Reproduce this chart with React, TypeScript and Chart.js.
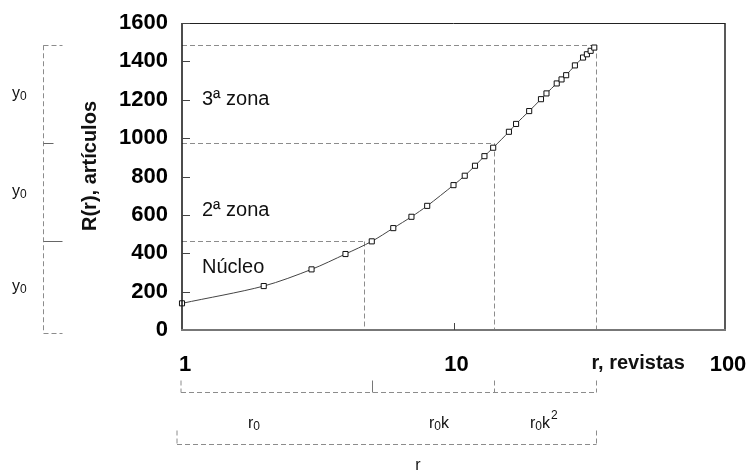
import React, { useEffect, useRef } from "react";
import { Chart, registerables } from "chart.js";

Chart.register(...registerables);

// Ranks of journals (r) and cumulative articles R(r)
const ranks = [1, 2, 3, 4, 5, 6, 7, 8, 10, 11, 12, 13, 14, 16, 17, 19, 21, 22, 24, 25, 26, 28, 30, 31, 32, 33];
const articles = [139, 229, 316, 396, 462, 531, 590, 647, 755, 804, 856, 906, 950, 1033, 1074, 1141, 1203, 1233, 1285, 1306, 1328, 1379, 1420, 1437, 1455, 1472];

// Bradford zones: end rank and cumulative articles at the end of each zone
const zoneNames = ["Núcleo", "2ª zona", "3ª zona"];
const zoneEndRank = [4.67, 14.07, 33.6];
const zoneEndArticles = [462, 972, 1484];
const zoneLabelArticles = [328, 625, 1200];

const xMajorTicks = [1, 10, 100];
const yMin = 0;
const yMax = 1600;
const yStep = 200;

const FONT = "'Liberation Sans', Arial, sans-serif";

const annotations = {
  id: "annotations",
  beforeDatasetsDraw(chart: any) {
    const { ctx, chartArea: ca, scales } = chart;
    const x = scales.x;
    const y = scales.y;
    ctx.save();
    ctx.strokeStyle = "#8c8c8c";
    ctx.lineWidth = 1;
    ctx.setLineDash([5, 3]);
    zoneEndRank.forEach((r, i) => {
      const px = Math.round(x.getPixelForValue(r)) + 0.5;
      const py = Math.round(y.getPixelForValue(zoneEndArticles[i])) + 0.5;
      ctx.beginPath();
      ctx.moveTo(ca.left, py);
      ctx.lineTo(px, py);
      ctx.stroke();
      ctx.beginPath();
      ctx.moveTo(px, py);
      ctx.lineTo(px, ca.bottom);
      ctx.stroke();
    });
    ctx.restore();
  },
  afterDatasetsDraw(chart: any) {
    const { ctx, chartArea: ca, scales } = chart;
    const x = scales.x;
    const y = scales.y;
    ctx.save();

    // plot frame
    ctx.setLineDash([]);
    ctx.strokeStyle = "#222";
    ctx.lineWidth = 1;
    ctx.beginPath();
    ctx.moveTo(ca.left, ca.top + 0.5);
    ctx.lineTo(ca.right, ca.top + 0.5);
    ctx.stroke();
    ctx.lineWidth = 1.5;
    ctx.beginPath();
    ctx.moveTo(ca.right, ca.top);
    ctx.lineTo(ca.right, ca.bottom);
    ctx.stroke();
    ctx.strokeStyle = "#111";
    ctx.lineWidth = 1.5;
    ctx.beginPath();
    ctx.moveTo(ca.left, ca.top);
    ctx.lineTo(ca.left, ca.bottom + 1);
    ctx.stroke();
    ctx.strokeStyle = "#777";
    ctx.lineWidth = 2;
    ctx.beginPath();
    ctx.moveTo(ca.left - 1, ca.bottom);
    ctx.lineTo(ca.right + 1, ca.bottom);
    ctx.stroke();

    // inner ticks
    ctx.strokeStyle = "#444";
    ctx.lineWidth = 1;
    for (let v = yMin + yStep; v <= yMax; v += yStep) {
      const py = Math.round(y.getPixelForValue(v)) + 0.5;
      ctx.beginPath();
      ctx.moveTo(ca.left, py);
      ctx.lineTo(ca.left + 8, py);
      ctx.stroke();
    }
    xMajorTicks.slice(1, -1).forEach((v) => {
      const px = Math.round(x.getPixelForValue(v)) + 0.5;
      ctx.beginPath();
      ctx.moveTo(px, ca.bottom);
      ctx.lineTo(px, ca.bottom - 7);
      ctx.stroke();
    });

    // zone labels
    ctx.fillStyle = "#111";
    ctx.font = `20px ${FONT}`;
    ctx.textAlign = "left";
    ctx.textBaseline = "middle";
    zoneNames.forEach((name, i) => {
      ctx.fillText(name, ca.left + 20, y.getPixelForValue(zoneLabelArticles[i]));
    });

    // y axis title
    ctx.save();
    ctx.translate(90, 166);
    ctx.rotate(-Math.PI / 2);
    ctx.font = `bold 20px ${FONT}`;
    ctx.textAlign = "center";
    ctx.textBaseline = "middle";
    ctx.fillText("R(r), artículos", 0, 0);
    ctx.restore();

    // left bracket (y0)
    const yTop = y.getPixelForValue(zoneEndArticles[2]);
    const yMid2 = y.getPixelForValue(zoneEndArticles[1]);
    const yMid1 = y.getPixelForValue(zoneEndArticles[0]);
    const yBot = y.getPixelForValue(yMin) + 3;
    const bx = 43.5;
    ctx.strokeStyle = "#8c8c8c";
    ctx.lineWidth = 1;
    ctx.setLineDash([5, 3]);
    ctx.beginPath();
    ctx.moveTo(bx, yTop);
    ctx.lineTo(bx, yBot);
    ctx.stroke();
    ctx.beginPath();
    ctx.moveTo(bx, Math.round(yTop) + 0.5);
    ctx.lineTo(bx + 19, Math.round(yTop) + 0.5);
    ctx.stroke();
    ctx.beginPath();
    ctx.moveTo(bx, Math.round(yBot) + 0.5);
    ctx.lineTo(bx + 19, Math.round(yBot) + 0.5);
    ctx.stroke();
    ctx.setLineDash([]);
    ctx.strokeStyle = "#666";
    ctx.beginPath();
    ctx.moveTo(bx, Math.round(yMid2) + 0.5);
    ctx.lineTo(bx + 10, Math.round(yMid2) + 0.5);
    ctx.stroke();
    ctx.beginPath();
    ctx.moveTo(bx, Math.round(yMid1) + 0.5);
    ctx.lineTo(bx + 19, Math.round(yMid1) + 0.5);
    ctx.stroke();

    const drawSub = (base: string, sub: string, sx: number, sy: number, size: number, tail = "", sup = "") => {
      ctx.textAlign = "left";
      ctx.textBaseline = "alphabetic";
      ctx.font = `${size}px ${FONT}`;
      ctx.fillText(base, sx, sy);
      let cx = sx + ctx.measureText(base).width;
      ctx.font = `${Math.round(size * 0.75)}px ${FONT}`;
      ctx.fillText(sub, cx, sy + 2);
      cx += ctx.measureText(sub).width;
      if (tail) {
        ctx.font = `${size}px ${FONT}`;
        ctx.fillText(tail, cx, sy);
        cx += ctx.measureText(tail).width;
      }
      if (sup) {
        ctx.font = `${Math.round(size * 0.75)}px ${FONT}`;
        ctx.fillText(sup, cx + 1, sy - 9);
      }
    };
    ctx.fillStyle = "#111";
    [(yTop + yMid2) / 2, (yMid2 + yMid1) / 2, (yMid1 + yBot) / 2].forEach((cy) => {
      drawSub("y", "0", 12, cy + 4, 16);
    });

    // x axis title
    ctx.font = `bold 20px ${FONT}`;
    ctx.textAlign = "left";
    ctx.textBaseline = "middle";
    ctx.fillText("r, revistas", x.getPixelForValue(zoneEndRank[2]) - 5, 363);

    // bottom brackets
    const pStart = x.getPixelForValue(1);
    const p5 = Math.round(x.getPixelForValue(5)) + 0.5;
    const pZ1 = Math.round(x.getPixelForValue(zoneEndRank[1])) + 0.5;
    const pZ2 = Math.round(x.getPixelForValue(zoneEndRank[2])) + 0.5;
    const row1 = 392.5;
    const row2 = 444.5;
    ctx.strokeStyle = "#8c8c8c";
    ctx.setLineDash([5, 3]);
    ctx.beginPath();
    ctx.moveTo(pStart - 1, row1);
    ctx.lineTo(pZ2, row1);
    ctx.stroke();
    [pStart - 1, pZ1, pZ2].forEach((px) => {
      ctx.beginPath();
      ctx.moveTo(px, row1 - 12);
      ctx.lineTo(px, row1);
      ctx.stroke();
    });
    ctx.beginPath();
    ctx.moveTo(pStart - 5, row2);
    ctx.lineTo(pZ2, row2);
    ctx.stroke();
    [pStart - 5, pZ2].forEach((px) => {
      ctx.beginPath();
      ctx.moveTo(px, row2 - 14);
      ctx.lineTo(px, row2);
      ctx.stroke();
    });
    ctx.setLineDash([]);
    ctx.strokeStyle = "#777";
    ctx.beginPath();
    ctx.moveTo(p5, row1 - 12);
    ctx.lineTo(p5, row1);
    ctx.stroke();

    ctx.fillStyle = "#111";
    drawSub("r", "0", pStart + 66, 428, 16);
    drawSub("r", "0", pStart + 247, 428, 16, "k");
    drawSub("r", "0", pStart + 348, 428, 16, "k", "2");
    ctx.font = `16px ${FONT}`;
    ctx.textAlign = "center";
    ctx.textBaseline = "alphabetic";
    ctx.fillText("r", pStart + 236, 470);

    ctx.restore();
  },
};

export default function App() {
  const canvasRef = useRef<HTMLCanvasElement | null>(null);

  useEffect(() => {
    const canvas = canvasRef.current;
    if (!canvas) return;
    const chart = new Chart(canvas, {
      type: "line",
      data: {
        labels: ranks,
        datasets: [
          {
            data: ranks.map((r, i) => ({ x: r, y: articles[i] })),
            borderColor: "#444",
            borderWidth: 1,
            pointStyle: "rect",
            pointRadius: 3.6,
            pointBackgroundColor: "#fff",
            pointBorderColor: "#111",
            pointBorderWidth: 1,
            tension: 0.3,
            clip: false,
          } as any,
        ],
      },
      options: {
        animation: false,
        responsive: false,
        maintainAspectRatio: false,
        layout: { padding: { top: 23, right: 23, left: 0, bottom: 0 } },
        plugins: { legend: { display: false }, tooltip: { enabled: false } },
        scales: {
          x: {
            type: "logarithmic",
            min: 1,
            max: 100,
            grid: { display: false, drawTicks: false },
            border: { display: false },
            ticks: {
              autoSkip: false,
              maxRotation: 0,
              padding: 22,
              labelOffset: 3,
              color: "#000",
              font: { family: FONT, size: 22, weight: "bold" },
              callback: (v: any) => {
                const n = Number(v);
                return xMajorTicks.some((t) => Math.abs(t - n) < 1e-9) ? String(n) : "";
              },
            },
            afterFit: (s: any) => {
              s.height = 140;
              s.paddingLeft = 0;
              s.paddingRight = 0;
            },
          },
          y: {
            min: yMin,
            max: yMax,
            grid: { display: false, drawTicks: false },
            border: { display: false },
            ticks: {
              stepSize: yStep,
              padding: 14,
              color: "#000",
              font: { family: FONT, size: 22, weight: "bold" },
              callback: (v: any) => String(v),
            },
            afterFit: (s: any) => {
              s.width = 182;
              s.paddingTop = 0;
              s.paddingBottom = 0;
            },
          },
        },
      } as any,
      plugins: [annotations],
    });
    return () => chart.destroy();
  }, []);

  return (
    <div style={{ position: "fixed", left: 0, top: 0, width: 748, height: 470, background: "#fff" }}>
      <canvas ref={canvasRef} width={748} height={470} style={{ display: "block" }} />
    </div>
  );
}
